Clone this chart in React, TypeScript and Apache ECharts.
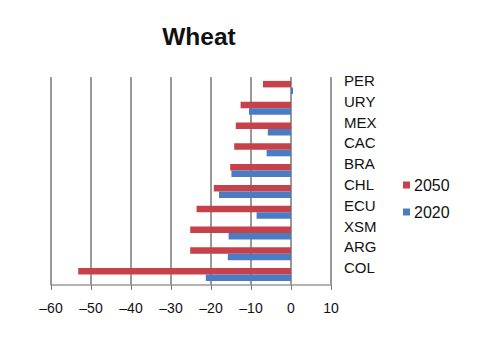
import React, { useEffect, useRef } from "react";
import * as echarts from "echarts";

const categories = ["PER", "URY", "MEX", "CAC", "BRA", "CHL", "ECU", "XSM", "ARG", "COL"];
const values2050 = [-7, -12.6, -13.8, -14.2, -15.2, -19.3, -23.6, -25.2, -25.2, -53.2];
const values2020 = [0.5, -10.5, -5.8, -6.1, -14.9, -18, -8.6, -15.6, -15.8, -21.3];

const FONT = "'Liberation Sans', Arial, sans-serif";

export default function App() {
  const ref = useRef<HTMLDivElement>(null);
  useEffect(() => {
    const chart = echarts.init(ref.current!, undefined, { renderer: "svg" });
    chart.setOption({
      animation: false,
      backgroundColor: "#ffffff",
      title: {
        text: "Wheat",
        left: 194,
        top: 19,
        textAlign: "center",
        textStyle: { fontFamily: FONT, fontSize: 24.5, fontWeight: "bold", color: "#111" },
      },
      legend: {
        orient: "vertical",
        left: 398,
        top: 172,
        itemWidth: 7,
        itemHeight: 7,
        itemGap: 11,
        icon: "rect",
        textStyle: { fontFamily: FONT, fontSize: 16, color: "#111", padding: [0, 0, 0, -1] },
        data: ["2050", "2020"],
      },
      grid: { left: 51, right: 150, top: 77, bottom: 67, containLabel: false },
      xAxis: {
        type: "value",
        min: -60,
        max: 10,
        interval: 10,
        axisLine: { show: true, onZero: false, lineStyle: { color: "#999", width: 1.5 } },
        axisTick: { show: true, length: 5, lineStyle: { color: "#777" } },
        splitLine: { show: true, lineStyle: { color: "#777", width: 1.5 } },
        axisLabel: {
          fontFamily: FONT,
          fontSize: 14,
          color: "#111",
          margin: 16,
          formatter: (v: number) => (v < 0 ? "\u2013" + Math.abs(v) : String(v)),
        },
      },
      yAxis: [
        {
          type: "category",
          data: categories,
          inverse: true,
          position: "right",
          axisLine: { show: false },
          axisTick: { show: false },
          axisLabel: {
            fontFamily: FONT,
            fontSize: 15,
            color: "#111",
            margin: 13,
            verticalAlign: "bottom",
            lineHeight: 14,
          },
        },
      ],
      series: [
        {
          name: "2050",
          type: "bar",
          data: values2050,
          barWidth: 6.5,
          barGap: "0%",
          itemStyle: { color: "#c6414a" },
        },
        {
          name: "2020",
          type: "bar",
          data: values2020,
          barWidth: 6.5,
          barGap: "0%",
          itemStyle: { color: "#4a7cc3" },
        },
      ],
    });
    return () => chart.dispose();
  }, []);
  return <div ref={ref} style={{ width: 481, height: 352, margin: -8 }} />;
}
